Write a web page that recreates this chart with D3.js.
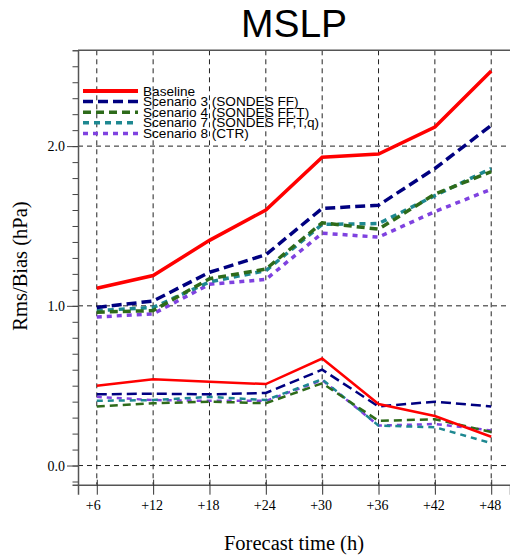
<!DOCTYPE html>
<html>
<head>
<meta charset="utf-8">
<script src="https://cdn.jsdelivr.net/npm/d3@7"></script>
<style>
  body { margin: 0; background: #fff; }
  svg { display: block; }
</style>
</head>
<body>
<div id="chart-area"></div>
<script>
// forecast lead times (h)
var hours = [6, 12, 18, 24, 30, 36, 42, 48];
var hourLabels = ["+6", "+12", "+18", "+24", "+30", "+36", "+42", "+48"];

var names = ["Baseline", "Scenario 3 (SONDES FF)", "Scenario 4 (SONDES FF,T)",
  "Scenario 7 (SONDES FF,T,q)", "Scenario 8 (CTR)"];

// rms (upper curves)
var rmsBaseline = [1.11, 1.19, 1.41, 1.60, 1.93, 1.95, 2.12, 2.47];
var rmsScen3    = [0.99, 1.03, 1.21, 1.32, 1.61, 1.63, 1.86, 2.13];
var rmsScen4    = [0.96, 0.97, 1.17, 1.23, 1.52, 1.48, 1.70, 1.84];
var rmsScen7    = [0.97, 0.99, 1.15, 1.22, 1.51, 1.515, 1.69, 1.86];
var rmsScen8    = [0.93, 0.95, 1.135, 1.165, 1.455, 1.43, 1.59, 1.73];

// bias (lower curves)
var biasBaseline = [0.50, 0.54, 0.525, 0.51, 0.67, 0.385, 0.31, 0.18];
var biasScen3    = [0.446, 0.45, 0.446, 0.454, 0.60, 0.37, 0.40, 0.37];
var biasScen4    = [0.37, 0.39, 0.40, 0.39, 0.515, 0.28, 0.29, 0.21];
var biasScen7    = [0.405, 0.41, 0.43, 0.41, 0.54, 0.25, 0.24, 0.14];
var biasScen8    = [0.43, 0.41, 0.405, 0.405, 0.535, 0.25, 0.26, 0.22];

var colors = ["#ff0000", "#000080", "#2e6b1a", "#1e8891", "#7f42e0"];
var dashes = [null, "10,5", "8,5", "6,5", "5,5"];

var rms = [rmsBaseline, rmsScen3, rmsScen4, rmsScen7, rmsScen8];
var bias = [biasBaseline, biasScen3, biasScen4, biasScen7, biasScen8];

var serif = "Liberation Serif, Times New Roman, serif";
var sans = "Liberation Sans, Arial, sans-serif";

var svg = d3.select("#chart-area").append("svg")
  .attr("width", 510)
  .attr("height", 559);

// X Scale
var x = d3.scaleLinear()
  .domain([4, 50])
  .range([78, 510]);

// Y Scale
var y = d3.scaleLinear()
  .domain([-0.12, 2.6])
  .range([484.7, 50.3]);

// grid
var grid = svg.append("g")
  .attr("stroke", "#222")
  .attr("stroke-width", 1)
  .attr("stroke-dasharray", "5,4");

grid.selectAll(".vgrid")
  .data(hours)
  .enter().append("line")
    .attr("x1", function(d) { return x(d); })
    .attr("x2", function(d) { return x(d); })
    .attr("y1", y.range()[1])
    .attr("y2", y.range()[0]);

grid.selectAll(".hgrid")
  .data([0, 1, 2])
  .enter().append("line")
    .attr("x1", x.range()[0])
    .attr("x2", x.range()[1])
    .attr("y1", function(d) { return y(d); })
    .attr("y2", function(d) { return y(d); });

// lines
var line = d3.line()
  .x(function(d, i) { return x(hours[i]); })
  .y(function(d) { return y(d); });

var order = [4, 3, 2, 1, 0];

order.forEach(function(k) {
  svg.append("path")
    .attr("d", line(rms[k]))
    .attr("fill", "none")
    .attr("stroke", colors[k])
    .attr("stroke-width", 3.5)
    .attr("stroke-dasharray", dashes[k]);
});

order.forEach(function(k) {
  svg.append("path")
    .attr("d", line(bias[k]))
    .attr("fill", "none")
    .attr("stroke", colors[k])
    .attr("stroke-width", 2.5)
    .attr("stroke-dasharray", dashes[k]);
});

// Y Axis: minor ticks
var minorTicks = d3.range(-1, 26).map(function(d) { return d / 10; });
var yMinor = svg.append("g")
  .attr("transform", "translate(78,0)")
  .call(d3.axisLeft(y).tickValues(minorTicks).tickSize(5.5).tickFormat(""));
yMinor.select(".domain").attr("stroke", "#555").attr("stroke-width", 1.5);
yMinor.selectAll(".tick line").attr("stroke", "#444");

// Y Axis: labelled ticks
var yMajor = svg.append("g")
  .attr("transform", "translate(78,0)")
  .call(d3.axisLeft(y).tickValues([0, 1, 2]).tickSize(11).tickPadding(2)
    .tickFormat(d3.format(".1f")));
yMajor.select(".domain").remove();
yMajor.selectAll(".tick line").attr("stroke", "#444");
yMajor.selectAll("text")
  .attr("font-family", serif)
  .attr("font-size", "14px")
  .attr("fill", "#000");

// X Axis
var xAxis = svg.append("g")
  .attr("transform", "translate(0," + y.range()[0] + ")")
  .call(d3.axisBottom(x).tickValues(hours).tickSize(10)
    .tickFormat(function(d, i) { return hourLabels[i]; }));
xAxis.select(".domain").attr("stroke", "#555").attr("stroke-width", 1.5);
xAxis.selectAll(".tick line").attr("stroke", "#333").attr("y1", -5);
xAxis.selectAll("text")
  .attr("y", 25.3)
  .attr("dy", null)
  .attr("dx", function(d, i) { return i === 0 ? -4 : -1.5; })
  .attr("font-family", serif)
  .attr("font-size", "14px")
  .attr("fill", "#000");

// top frame
svg.append("line")
  .attr("x1", x.range()[0])
  .attr("x2", x.range()[1])
  .attr("y1", y.range()[1])
  .attr("y2", y.range()[1])
  .attr("stroke", "#555")
  .attr("stroke-width", 1.5);

// Title
svg.append("text")
  .attr("x", 294)
  .attr("y", 37)
  .attr("text-anchor", "middle")
  .attr("font-family", sans)
  .attr("font-size", "39px")
  .text("MSLP");

// X Label
svg.append("text")
  .attr("x", 294)
  .attr("y", 550)
  .attr("text-anchor", "middle")
  .attr("font-family", serif)
  .attr("font-size", "20.5px")
  .text("Forecast time (h)");

// Y Label
svg.append("text")
  .attr("transform", "translate(26.5,266) rotate(-90)")
  .attr("text-anchor", "middle")
  .attr("font-family", serif)
  .attr("font-size", "20.5px")
  .text("Rms/Bias (hPa)");

// Legend
var legend = svg.append("g");
names.forEach(function(name, i) {
  var ly = 91 + i * 10.6;
  legend.append("line")
    .attr("x1", 83)
    .attr("x2", 138)
    .attr("y1", ly)
    .attr("y2", ly)
    .attr("stroke", colors[i])
    .attr("stroke-width", i === 0 ? 4 : 3.5)
    .attr("stroke-dasharray", dashes[i]);
  legend.append("text")
    .attr("x", 143)
    .attr("y", ly + 4.5)
    .attr("font-family", sans)
    .attr("font-size", "13.6px")
    .text(name);
});
</script>
</body>
</html>
